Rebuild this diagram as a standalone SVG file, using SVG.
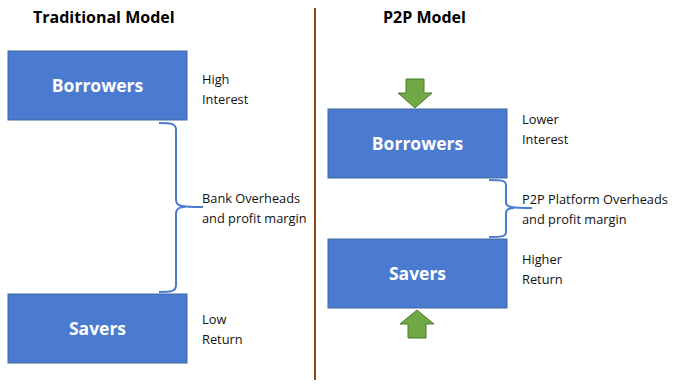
<svg xmlns="http://www.w3.org/2000/svg" width="674" height="390" viewBox="0 0 674 390">
<style>
.box{fill:#4a7bd0;stroke:#41699f;stroke-width:1}
.bl{font-family:"Open Sans","Liberation Sans",sans-serif;font-weight:bold;font-size:17.5px;fill:#fff;text-anchor:middle}
.t{font-family:"Open Sans","Liberation Sans",sans-serif;font-size:12.8px;fill:#111}
.h{font-family:"Open Sans","Liberation Sans",sans-serif;font-weight:bold;font-size:16px;fill:#000}
.br{fill:none;stroke:#4a7bd0;stroke-width:2}
.ar{fill:#6fa844;stroke:#4d7a2e;stroke-width:1}
</style>
<rect width="674" height="390" fill="#fff"/>
<text class="h" x="33" y="23">Traditional Model</text>
<text class="h" x="383" y="23">P2P Model</text>
<line x1="315" y1="8" x2="315" y2="380" stroke="#8b4513" stroke-width="2"/>
<g id="trad-borrowers"><rect class="box" x="8" y="51" width="179" height="69"/><text class="bl" x="97.5" y="92">Borrowers</text></g>
<g id="trad-savers"><rect class="box" x="8" y="294" width="179" height="69"/><text class="bl" x="97.5" y="335">Savers</text></g>
<g id="p2p-borrowers"><rect class="box" x="328" y="109" width="179" height="69"/><text class="bl" x="417.5" y="150">Borrowers</text></g>
<g id="p2p-savers"><rect class="box" x="328" y="239" width="179" height="69"/><text class="bl" x="417.5" y="280">Savers</text></g>
<g id="labels">
<text class="t" x="202" y="84">High</text><text class="t" x="202" y="104">Interest</text>
<text class="t" x="202" y="203">Bank Overheads</text><text class="t" x="202" y="223">and profit margin</text>
<text class="t" x="202" y="324">Low</text><text class="t" x="202" y="344">Return</text>
<text class="t" x="522" y="124">Lower</text><text class="t" x="522" y="144">Interest</text>
<text class="t" x="522" y="204">P2P Platform Overheads</text><text class="t" x="522" y="224">and profit margin</text>
<text class="t" x="522" y="264">Higher</text><text class="t" x="522" y="284">Return</text>
</g>
<g id="connectors">
<path class="br" d="M159 123 C170 123 176 123 176 130 L176 200 C176 206 180 207 203 207 M176 214 C176 208 180 207 185 207 M176 214 L176 285 C176 292 170 292 159 292"/>
<path class="br" d="M489 180 C500 180 506 180 506 185 L506 203 C506 207 512 208 532 208 M506 213 C506 209 510 208 514 208 M506 213 L506 232 C506 237 500 237 489 237"/>
<polygon class="ar" points="406,79 424,79 424,93 432,93 415,108 398,93 406,93"/>
<polygon class="ar" points="417,310 434,324 426,324 426,338 408,338 408,324 400,324"/>
</g>
</svg>
